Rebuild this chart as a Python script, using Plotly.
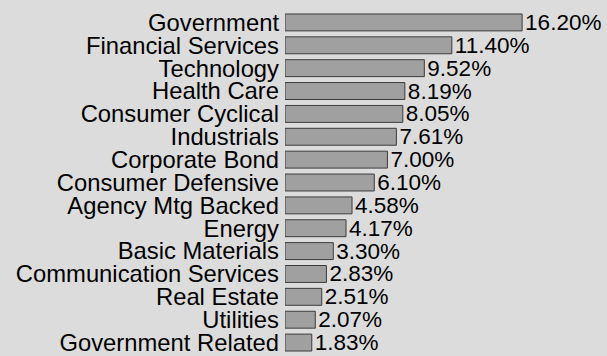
import plotly.graph_objects as go

sectors = [
    "Government", "Financial Services", "Technology", "Health Care",
    "Consumer Cyclical", "Industrials", "Corporate Bond", "Consumer Defensive",
    "Agency Mtg Backed", "Energy", "Basic Materials", "Communication Services",
    "Real Estate", "Utilities", "Government Related",
]
weights = [16.20, 11.40, 9.52, 8.19, 8.05, 7.61, 7.00, 6.10,
           4.58, 4.17, 3.30, 2.83, 2.51, 2.07, 1.83]
labels = [f"{w:.2f}%" for w in weights]

BG = "#dcdcdc"
FONT = "Liberation Sans, Arial"

fig = go.Figure(go.Bar(
    x=weights,
    y=sectors,
    orientation="h",
    text=labels,
    textposition="outside",
    textangle=0,
    constraintext="none",
    cliponaxis=False,
    hoverinfo="skip",
    marker=dict(color="#a0a0a0", line=dict(color="#3c3c3c", width=1)),
    textfont=dict(family=FONT, size=22.5, color="#000000"),
))

fig.update_layout(
    width=607,
    height=356,
    margin=dict(l=285, r=0, t=11, b=0),
    paper_bgcolor=BG,
    plot_bgcolor=BG,
    bargap=0.26,
    showlegend=False,
    font=dict(family=FONT, size=22, color="#000000"),
    xaxis=dict(range=[0, 22], visible=False, fixedrange=True),
    yaxis=dict(
        autorange="reversed",
        tickmode="array",
        tickvals=sectors,
        ticktext=sectors,
        showgrid=False,
        zeroline=False,
        showline=False,
        ticks="",
        ticklabelstandoff=5,
        fixedrange=True,
        tickfont=dict(family=FONT, size=23.8, color="#000000"),
    ),
)

fig.write_html(
    "out.html",
    config={"displayModeBar": False},
    post_script="document.body.style.margin='0';document.body.style.background='#dcdcdc';",
)
